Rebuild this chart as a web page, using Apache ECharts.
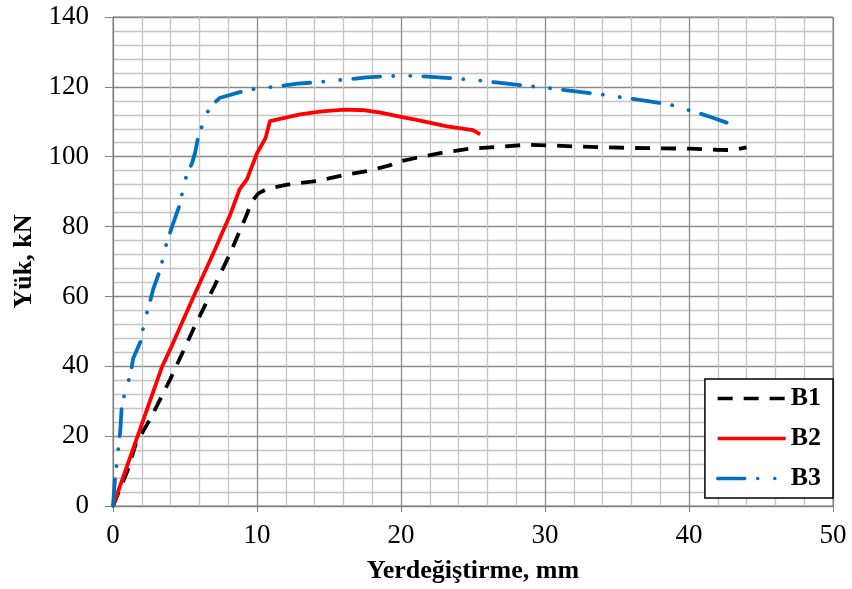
<!DOCTYPE html>
<html>
<head>
<meta charset="utf-8">
<script src="https://cdn.jsdelivr.net/npm/echarts@6/dist/echarts.min.js"></script>
<style>
  html, body { margin: 0; padding: 0; background: #fff; }
  #chart { width: 852px; height: 589px; }
</style>
</head>
<body>
<div id="chart"></div>
<script>
// okunan değerler: [yerdeğiştirme mm, yük kN]
var b1Data = [[0,0],[1,10],[1.6,18],[2.6,25],[4,36.5],[5.6,50.8],[7,62.6],[8.1,72],[9.3,83.5],[9.6,87],[10.1,89.5],[10.7,90.8],[12.1,92],[14.1,93],[16.2,94.9],[17.8,96],[19.2,97.5],[19.7,98.5],[21.1,99.7],[22.9,101.2],[24.8,102.3],[26.6,102.8],[28.7,103.4],[30.6,103.2],[32.4,102.9],[34.3,102.7],[36.1,102.5],[38.2,102.4],[40.1,102.3],[41.9,102],[43,101.9],[44,102.7]];
var b2Data = [[0,0],[1.9,22.2],[3.4,39.8],[4.1,46],[5.6,60],[7.1,73.6],[7.7,79.3],[8.1,83],[8.8,90.7],[9.3,93.5],[10,101],[10.6,105.4],[10.9,110.2],[13,112.1],[14.5,113],[16.1,113.5],[17.5,113.3],[18.5,112.7],[20,111.4],[21,110.6],[23.2,108.7],[25,107.6],[25.5,106.4]];
var b3Data = [[0,0],[0.14,8],[0.25,11.8],[0.37,16.5],[0.5,21.3],[0.6,28],[0.83,32.7],[1.2,37.4],[1.4,42.2],[1.9,47],[2.2,53.1],[2.5,57.4],[2.8,62.2],[3.3,67.9],[3.6,73.6],[4.1,80],[4.65,86.4],[4.9,91.6],[5.1,94.5],[5.5,98.3],[5.7,101.1],[5.9,105.4],[6.3,110.2],[6.7,114],[7.4,116.8],[9,118.7],[10.2,119.7],[11.4,120.1],[12.8,120.9],[14.1,121.3],[15.3,121.8],[16.5,122.2],[17.6,122.7],[19.4,123.1],[20.4,123.2],[21.5,123],[23.4,122.5],[25.5,121.8],[26.6,121.3],[28.5,120.4],[30.6,119.5],[31.7,118.9],[33.6,118],[35.7,116.8],[36.8,116.1],[38.7,114.9],[40.5,112.7],[41.7,111.1],[43.2,108.9]];

var seriesNames = ['B1', 'B2', 'B3'];
var font = '"Liberation Serif", "Times New Roman", serif';

var myChart = echarts.init(document.getElementById('chart'));
var option = {
  animation: false,
  backgroundColor: '#fff',
  grid: {
    left: 113, right: 19, top: 17, bottom: 81,
    show: true, borderColor: '#808080', borderWidth: 1
  },
  legend: {
    data: seriesNames,
    orient: 'vertical',
    right: 19,
    bottom: 91,
    padding: [4, 12, 4, 11],
    itemWidth: 68,
    itemHeight: 14,
    itemGap: 9,
    backgroundColor: '#fff',
    borderColor: '#000',
    borderWidth: 1.5,
    borderRadius: 0,
    itemStyle: { opacity: 0 },
    lineStyle: { width: 3.5 },
    textStyle: { fontFamily: font, fontWeight: 'bold', fontSize: 26, color: '#000', lineHeight: 31 }
  },
  xAxis: {
    type: 'value',
    min: 0, max: 50, interval: 10,
    name: 'Yerdeğiştirme, mm',
    nameLocation: 'middle',
    nameGap: 52,
    nameTextStyle: { fontFamily: font, fontWeight: 'bold', fontSize: 26, color: '#000' },
    axisLine: { show: true, lineStyle: { color: '#808080', width: 1 } },
    axisTick: { show: true, length: 6, lineStyle: { color: '#808080' } },
    axisLabel: { fontFamily: font, fontSize: 27, color: '#000', margin: 16 },
    splitLine: { show: true, lineStyle: { color: '#8a8a8a', width: 1.3 } },
    minorTick: { show: false, splitNumber: 5 },
    minorSplitLine: { show: true, lineStyle: { color: '#c4c4c4', width: 1.3 } }
  },
  yAxis: {
    type: 'value',
    min: 0, max: 140, interval: 20,
    name: 'Yük, kN',
    nameLocation: 'middle',
    nameGap: 73,
    nameRotate: 90,
    nameTextStyle: { fontFamily: font, fontWeight: 'bold', fontSize: 26, color: '#000' },
    axisLine: { show: true, lineStyle: { color: '#808080', width: 1 } },
    axisTick: { show: true, length: 8, lineStyle: { color: '#808080' } },
    axisLabel: { fontFamily: font, fontSize: 27, color: '#000', margin: 24 },
    splitLine: { show: true, lineStyle: { color: '#8a8a8a', width: 1.3 } },
    minorTick: { show: false, splitNumber: 5 },
    minorSplitLine: { show: true, lineStyle: { color: '#c4c4c4', width: 1.3 } }
  },
  series: [
    {
      name: 'B1', type: 'line', data: b1Data, symbol: 'none', smooth: false,
      itemStyle: { color: '#000' },
      lineStyle: { color: '#000', width: 3.8, type: [15, 11], cap: 'butt' }
    },
    {
      name: 'B2', type: 'line', data: b2Data, symbol: 'none',
      itemStyle: { color: '#ff0000' },
      lineStyle: { color: '#ff0000', width: 3.8, type: 'solid' }
    },
    {
      name: 'B3', type: 'line', data: b3Data, symbol: 'none',
      itemStyle: { color: '#0070c0' },
      lineStyle: { color: '#0070c0', width: 3.8, type: [27, 13, 0.1, 17, 0.1, 13], cap: 'round' }
    }
  ]
};
option && myChart.setOption(option);
</script>
</body>
</html>
